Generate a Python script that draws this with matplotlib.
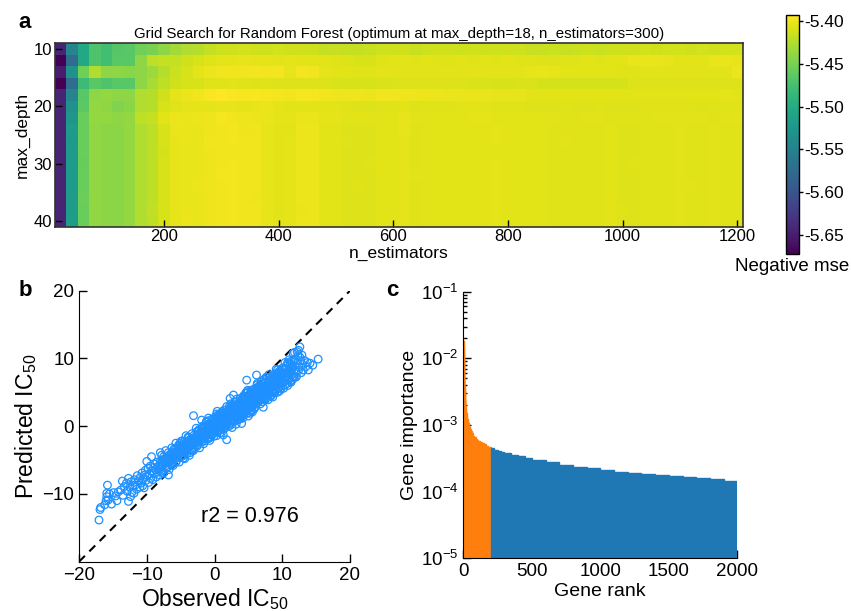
import numpy as np
import matplotlib
matplotlib.use("Agg")
import matplotlib.pyplot as plt
from matplotlib.ticker import FormatStrFormatter

plt.rcParams["font.family"] = ["Liberation Sans", "DejaVu Sans"]
plt.rcParams["mathtext.fontset"] = "custom"
plt.rcParams["mathtext.rm"] = "Liberation Sans"
plt.rcParams["mathtext.it"] = "Liberation Sans:italic"
plt.rcParams["mathtext.bf"] = "Liberation Sans:bold"

# ---- a: grid search (negative mse) ----
n_estimators = list(range(20, 1201, 20))
max_depth = [10, 12, 14, 16, 18, 20, 22, 24, 26, 28, 30, 32, 34, 36, 38, 40]

score_d10 = [-5.644, -5.546, -5.505, -5.471, -5.477, -5.468, -5.466, -5.454, -5.449, -5.440,
             -5.432, -5.426, -5.424, -5.418, -5.414, -5.413, -5.412, -5.413, -5.414, -5.412,
             -5.413, -5.413, -5.414, -5.417, -5.416, -5.417, -5.418, -5.416, -5.414, -5.413,
             -5.413, -5.416, -5.414, -5.413, -5.413, -5.414, -5.413, -5.413, -5.414, -5.413,
             -5.414, -5.416, -5.416, -5.415, -5.416, -5.415, -5.414, -5.415, -5.414, -5.413,
             -5.413, -5.412, -5.413, -5.412, -5.412, -5.413, -5.412, -5.413, -5.412, -5.412]
score_d12 = [-5.672, -5.574, -5.505, -5.471, -5.477, -5.466, -5.466, -5.440, -5.421, -5.418,
             -5.418, -5.413, -5.410, -5.407, -5.404, -5.404, -5.403, -5.404, -5.404, -5.405,
             -5.404, -5.405, -5.405, -5.406, -5.407, -5.408, -5.410, -5.410, -5.407, -5.406,
             -5.406, -5.407, -5.406, -5.407, -5.407, -5.406, -5.407, -5.406, -5.407, -5.406,
             -5.407, -5.407, -5.408, -5.408, -5.407, -5.407, -5.406, -5.407, -5.406, -5.406,
             -5.402, -5.402, -5.402, -5.403, -5.406, -5.406, -5.405, -5.402, -5.402, -5.403]
score_d14 = [-5.650, -5.532, -5.454, -5.426, -5.440, -5.440, -5.443, -5.440, -5.435, -5.424,
             -5.415, -5.410, -5.404, -5.401, -5.399, -5.399, -5.399, -5.398, -5.399, -5.398,
             -5.403, -5.398, -5.399, -5.404, -5.405, -5.406, -5.407, -5.407, -5.406, -5.406,
             -5.405, -5.406, -5.405, -5.406, -5.405, -5.406, -5.406, -5.406, -5.405, -5.406,
             -5.406, -5.403, -5.402, -5.403, -5.405, -5.406, -5.406, -5.406, -5.406, -5.407,
             -5.407, -5.406, -5.406, -5.406, -5.406, -5.406, -5.406, -5.405, -5.405, -5.401]
score_d16 = [-5.672, -5.574, -5.482, -5.466, -5.471, -5.466, -5.466, -5.440, -5.429, -5.421,
             -5.413, -5.410, -5.410, -5.407, -5.407, -5.406, -5.407, -5.408, -5.407, -5.408,
             -5.408, -5.408, -5.408, -5.408, -5.409, -5.410, -5.410, -5.410, -5.409, -5.409,
             -5.408, -5.408, -5.408, -5.408, -5.408, -5.408, -5.409, -5.409, -5.410, -5.410,
             -5.409, -5.409, -5.411, -5.411, -5.411, -5.411, -5.411, -5.411, -5.411, -5.411,
             -5.408, -5.408, -5.408, -5.408, -5.408, -5.408, -5.408, -5.408, -5.408, -5.408]
score_d18 = [-5.644, -5.546, -5.466, -5.440, -5.438, -5.440, -5.440, -5.426, -5.424, -5.413,
             -5.404, -5.401, -5.399, -5.396, -5.393, -5.396, -5.397, -5.396, -5.397, -5.398,
             -5.399, -5.397, -5.397, -5.399, -5.400, -5.400, -5.400, -5.401, -5.399, -5.399,
             -5.400, -5.400, -5.401, -5.401, -5.402, -5.402, -5.402, -5.402, -5.403, -5.403,
             -5.403, -5.405, -5.405, -5.405, -5.405, -5.406, -5.405, -5.405, -5.406, -5.406,
             -5.405, -5.405, -5.405, -5.405, -5.405, -5.405, -5.405, -5.405, -5.404, -5.405]
score_d20 = [-5.644, -5.532, -5.463, -5.438, -5.440, -5.446, -5.443, -5.426, -5.424, -5.410,
             -5.407, -5.404, -5.404, -5.404, -5.403, -5.403, -5.404, -5.403, -5.402, -5.404,
             -5.405, -5.406, -5.406, -5.406, -5.406, -5.407, -5.408, -5.408, -5.407, -5.407,
             -5.406, -5.408, -5.407, -5.407, -5.407, -5.406, -5.406, -5.406, -5.407, -5.407,
             -5.407, -5.408, -5.408, -5.408, -5.407, -5.408, -5.408, -5.407, -5.408, -5.408,
             -5.408, -5.407, -5.407, -5.407, -5.407, -5.407, -5.408, -5.407, -5.407, -5.407]
score_d22 = [-5.644, -5.527, -5.457, -5.438, -5.438, -5.440, -5.438, -5.421, -5.418, -5.406,
             -5.401, -5.402, -5.401, -5.400, -5.397, -5.399, -5.400, -5.401, -5.402, -5.404,
             -5.404, -5.402, -5.402, -5.404, -5.404, -5.406, -5.406, -5.406, -5.405, -5.405,
             -5.403, -5.405, -5.405, -5.405, -5.405, -5.405, -5.404, -5.404, -5.405, -5.405,
             -5.405, -5.406, -5.406, -5.406, -5.407, -5.407, -5.406, -5.406, -5.407, -5.407,
             -5.407, -5.407, -5.406, -5.406, -5.406, -5.406, -5.406, -5.407, -5.406, -5.406]
score_d24 = [-5.644, -5.519, -5.457, -5.439, -5.441, -5.441, -5.438, -5.426, -5.421, -5.410,
             -5.402, -5.402, -5.402, -5.400, -5.399, -5.398, -5.400, -5.399, -5.403, -5.405,
             -5.405, -5.401, -5.401, -5.405, -5.406, -5.408, -5.408, -5.408, -5.406, -5.406,
             -5.403, -5.407, -5.406, -5.406, -5.406, -5.406, -5.405, -5.405, -5.404, -5.406,
             -5.405, -5.406, -5.406, -5.407, -5.407, -5.407, -5.407, -5.407, -5.406, -5.408,
             -5.408, -5.407, -5.407, -5.407, -5.406, -5.407, -5.407, -5.406, -5.407, -5.407]
score_d26 = [-5.644, -5.521, -5.457, -5.439, -5.441, -5.441, -5.438, -5.426, -5.421, -5.410,
             -5.403, -5.402, -5.402, -5.399, -5.399, -5.398, -5.399, -5.399, -5.403, -5.405,
             -5.404, -5.401, -5.401, -5.405, -5.406, -5.407, -5.408, -5.408, -5.406, -5.406,
             -5.404, -5.407, -5.406, -5.406, -5.406, -5.406, -5.405, -5.405, -5.404, -5.406,
             -5.405, -5.406, -5.406, -5.407, -5.406, -5.407, -5.407, -5.407, -5.406, -5.408,
             -5.408, -5.407, -5.407, -5.407, -5.406, -5.407, -5.407, -5.406, -5.407, -5.407]
score_d28 = [-5.644, -5.519, -5.457, -5.439, -5.441, -5.441, -5.438, -5.426, -5.421, -5.411,
             -5.403, -5.402, -5.402, -5.400, -5.399, -5.399, -5.399, -5.399, -5.403, -5.405,
             -5.404, -5.401, -5.401, -5.405, -5.406, -5.408, -5.408, -5.408, -5.406, -5.406,
             -5.404, -5.407, -5.406, -5.406, -5.406, -5.406, -5.405, -5.405, -5.405, -5.406,
             -5.405, -5.406, -5.406, -5.407, -5.407, -5.407, -5.407, -5.407, -5.406, -5.408,
             -5.408, -5.407, -5.407, -5.407, -5.406, -5.407, -5.407, -5.406, -5.407, -5.407]
score_d30 = [-5.644, -5.519, -5.458, -5.439, -5.441, -5.441, -5.438, -5.426, -5.421, -5.410,
             -5.403, -5.402, -5.402, -5.400, -5.399, -5.398, -5.399, -5.399, -5.403, -5.405,
             -5.404, -5.401, -5.401, -5.405, -5.406, -5.408, -5.408, -5.407, -5.406, -5.406,
             -5.404, -5.407, -5.406, -5.406, -5.406, -5.406, -5.405, -5.405, -5.404, -5.406,
             -5.405, -5.406, -5.406, -5.407, -5.407, -5.407, -5.407, -5.407, -5.406, -5.408,
             -5.407, -5.407, -5.407, -5.407, -5.406, -5.407, -5.407, -5.406, -5.407, -5.407]
score_d32 = [-5.644, -5.520, -5.457, -5.439, -5.441, -5.441, -5.438, -5.426, -5.421, -5.410,
             -5.403, -5.402, -5.402, -5.400, -5.398, -5.398, -5.399, -5.399, -5.403, -5.405,
             -5.404, -5.401, -5.401, -5.405, -5.406, -5.408, -5.408, -5.408, -5.406, -5.406,
             -5.404, -5.406, -5.406, -5.406, -5.406, -5.406, -5.405, -5.405, -5.404, -5.406,
             -5.405, -5.406, -5.406, -5.407, -5.407, -5.407, -5.407, -5.407, -5.406, -5.408,
             -5.408, -5.407, -5.407, -5.407, -5.406, -5.407, -5.407, -5.406, -5.407, -5.407]
score_d34 = [-5.644, -5.519, -5.457, -5.439, -5.441, -5.441, -5.438, -5.426, -5.421, -5.410,
             -5.403, -5.402, -5.401, -5.400, -5.399, -5.398, -5.399, -5.399, -5.403, -5.405,
             -5.404, -5.401, -5.401, -5.405, -5.406, -5.408, -5.407, -5.408, -5.406, -5.406,
             -5.404, -5.407, -5.406, -5.406, -5.406, -5.406, -5.405, -5.405, -5.404, -5.406,
             -5.405, -5.406, -5.406, -5.407, -5.407, -5.407, -5.407, -5.407, -5.406, -5.408,
             -5.408, -5.407, -5.407, -5.407, -5.406, -5.406, -5.407, -5.406, -5.407, -5.407]
score_d36 = [-5.644, -5.519, -5.456, -5.439, -5.441, -5.441, -5.438, -5.426, -5.421, -5.410,
             -5.403, -5.402, -5.402, -5.400, -5.399, -5.398, -5.399, -5.400, -5.403, -5.405,
             -5.404, -5.401, -5.401, -5.405, -5.406, -5.408, -5.408, -5.408, -5.406, -5.406,
             -5.404, -5.407, -5.406, -5.406, -5.406, -5.406, -5.405, -5.405, -5.404, -5.406,
             -5.406, -5.406, -5.406, -5.407, -5.407, -5.407, -5.407, -5.407, -5.406, -5.408,
             -5.408, -5.407, -5.407, -5.407, -5.406, -5.407, -5.407, -5.406, -5.407, -5.407]
score_d38 = [-5.644, -5.519, -5.457, -5.439, -5.441, -5.441, -5.438, -5.426, -5.420, -5.410,
             -5.403, -5.402, -5.402, -5.400, -5.399, -5.398, -5.399, -5.399, -5.403, -5.405,
             -5.404, -5.402, -5.401, -5.405, -5.406, -5.408, -5.408, -5.408, -5.406, -5.406,
             -5.404, -5.407, -5.406, -5.406, -5.406, -5.406, -5.405, -5.405, -5.404, -5.406,
             -5.405, -5.406, -5.406, -5.407, -5.407, -5.407, -5.407, -5.407, -5.406, -5.407,
             -5.408, -5.407, -5.407, -5.407, -5.406, -5.407, -5.407, -5.406, -5.407, -5.407]
score_d40 = [-5.644, -5.518, -5.457, -5.439, -5.441, -5.441, -5.438, -5.426, -5.421, -5.410,
             -5.403, -5.401, -5.402, -5.400, -5.399, -5.398, -5.399, -5.399, -5.403, -5.405,
             -5.404, -5.401, -5.401, -5.405, -5.406, -5.408, -5.408, -5.408, -5.406, -5.406,
             -5.404, -5.407, -5.406, -5.405, -5.406, -5.406, -5.405, -5.405, -5.404, -5.406,
             -5.405, -5.406, -5.406, -5.407, -5.407, -5.407, -5.407, -5.407, -5.406, -5.408,
             -5.408, -5.407, -5.407, -5.407, -5.406, -5.407, -5.407, -5.406, -5.407, -5.407]

# ---- b: observed vs predicted IC50 ----
observed_ic50 = [
    -17.05, -16.8, -16.9, -16.2, -15.9, -15.8, -15.7, -16.0, -15.5, -15.2,
    -14.9, -14.6, -14.2, -14.4, -15.9,
    -13.8, -13.5, -13.3, -13.0, -12.9, -12.7, -12.7, -12.5, -12.3, -12.2,
    -12.0, -11.8, -11.7, -11.5, -11.4, -11.2, -11.0, -11.0, -10.8, -10.7,
    -10.5, -10.4, -10.3, -10.2, -10.1, -10.0, -13.6, -12.4, -11.9, -10.6,
    -9.9, -9.8, -9.7, -9.6, -9.5, -9.4, -9.3, -9.2, -9.1, -9.0,
    -8.9, -8.8, -8.7, -8.6, -8.5, -8.4, -8.3, -8.2, -8.1, -8.0,
    -7.9, -7.8, -7.7, -7.6, -7.5, -7.4, -7.3, -7.2, -7.1, -7.0,
    -6.9, -6.8, -6.7, -6.6, -6.5, -6.4, -6.3, -6.2, -6.1, -6.0,
    -5.9, -5.8, -5.7, -5.6, -5.5, -5.4, -5.3, -5.2, -5.1, -5.0,
    -4.9, -4.8, -4.7, -4.6, -4.5, -4.4, -4.3, -4.2, -4.1, -4.0,
    -3.9, -3.8, -3.7, -3.6, -3.5, -3.4, -3.3, -3.2, -3.1, -3.0,
    -2.9, -2.8, -2.7, -2.6, -2.5, -2.4, -2.3, -2.2, -2.1, -2.0,
    -5.7, -5.1, -4.4, -3.9, -3.3, -2.6, -4.7, -5.9, -2.3, -4.9,
    -1.9, -1.9, -1.8, -1.7, -1.6, -1.5, -1.4, -1.3, -1.2, -1.1,
    -1.0, -0.9, -0.8, -0.7, -0.6, -0.5, -0.4, -0.3, -0.2, -0.1,
    0.0, 0.1, 0.2, 0.3, 0.4, 0.5, 0.6, 0.7, 0.8, 0.9,
    1.0, 1.1, 1.2, 1.3, 1.4, 1.5, 1.6, 1.7, 1.8, 1.9,
    -1.5, -1.2, -0.8, -0.4, 0.0, 0.3, 0.6, 1.0, 1.4, 1.9,
    -1.0, -0.6, 0.2, 0.8, 1.2, 1.6, -1.7, -0.2, 0.5, 1.1,
    1.7, 0.9, -0.9, 0.4, 1.3,
    2.0, 2.1, 2.2, 2.3, 2.3, 2.4, 2.5, 2.6, 2.7, 2.8,
    2.8, 2.9, 3.0, 3.1, 3.2, 3.3, 3.4, 3.5, 3.6, 3.7,
    3.8, 3.9, 4.0, 4.0, 4.1, 4.2, 4.3, 4.4, 4.5, 4.6,
    4.7, 4.75, 4.8, 4.9, 5.0, 5.1, 5.2, 5.3, 5.4, 5.5,
    5.6, 5.7, 5.8, 5.9, 6.0, 2.2, 2.6, 3.0, 3.4, 3.8,
    4.2, 4.6, 5.0, 5.4, 5.8, 2.4, 3.2, 3.9, 4.4, 5.1,
    5.6, 2.9, 3.6, 4.3, 5.3, 5.9, 2.1, 2.7, 3.3, 4.1,
    4.8, 5.5, 4.9, 3.7, 5.2,
    6.1, 6.2, 6.2, 6.3, 6.4, 6.5, 6.6, 6.7, 6.8, 6.9,
    7.0, 7.1, 7.2, 7.2, 7.3, 7.4, 7.5, 7.6, 7.7, 7.8,
    7.9, 8.0, 8.1, 8.2, 8.3, 8.4, 8.5, 8.6, 8.7, 8.8,
    8.9, 9.0, 9.1, 9.2, 9.3, 9.4, 9.5, 9.6, 9.7, 9.8,
    9.9, 10.0, 6.3, 6.9, 7.5, 8.0, 8.6, 9.1, 9.6, 6.6,
    7.3, 7.9, 8.4, 8.9, 9.4, 9.9, 6.5, 7.1, 7.7, 8.2,
    8.7, 9.3, 9.8, 6.8, 7.6,
    10.1, 10.2, 10.3, 10.4, 10.5, 10.6, 10.7, 10.8, 10.9, 11.0,
    11.1, 11.2, 11.3, 11.4, 11.5, 11.6, 11.7, 11.8, 11.9, 12.0,
    12.1, 12.2, 12.3, 12.4, 12.5, 12.6, 12.7, 12.8, 12.9, 13.0,
    10.4, 11.0, 11.8, 12.2, 12.6, 10.8, 11.5, 12.4,
    13.1, 13.3, 13.5, 13.85, 14.1, 14.5, 15.3, 13.7,
    # core of the cloud
    -8.0, -7.9, -7.8, -7.7, -7.6, -7.5, -7.4, -7.3, -7.2, -7.1,
    -7.0, -6.9, -6.8, -6.7, -6.6, -6.5, -6.4, -6.3, -6.2, -6.1,
    -6.0, -5.9, -5.8, -5.7, -5.6, -5.5, -5.4, -5.3, -5.2, -5.1,
    -5.0, -4.9, -4.8, -4.7, -4.6, -4.5, -4.4, -4.3, -4.2, -4.1,
    -4.0, -3.9, -3.8, -3.7, -3.6, -3.5, -3.4, -3.3, -3.2, -3.1,
    -3.0, -2.9, -2.8, -2.7, -2.6, -2.5, -2.4, -2.3, -2.2, -2.1,
    -2.0, -1.9, -1.8, -1.7, -1.6, -1.5, -1.4, -1.3, -1.2, -1.1,
    -1.0, -0.9, -0.8, -0.7, -0.6, -0.5, -0.4, -0.3, -0.2, -0.1,
    0.0, 0.1, 0.2, 0.3, 0.4, 0.5, 0.6, 0.7, 0.8, 0.9,
    1.0, 1.1, 1.2, 1.3, 1.4, 1.5, 1.6, 1.7, 1.8, 1.9,
    2.0, 2.1, 2.2, 2.3, 2.4, 2.5, 2.6, 2.7, 2.8, 2.9,
    3.0, 3.1, 3.2, 3.3, 3.4, 3.5, 3.6, 3.7, 3.8, 3.9,
    4.0, 4.1, 4.2, 4.3, 4.4, 4.5, 4.6, 4.7, 4.8, 4.9,
    5.0, 5.1, 5.2, 5.3, 5.4, 5.5, 5.6, 5.7, 5.8, 5.9,
    6.0, 6.1, 6.2, 6.3, 6.4, 6.5, 6.6, 6.7, 6.8, 6.9,
    7.0, 7.1, 7.2, 7.3, 7.4, 7.5, 7.6, 7.7, 7.8, 7.9,
    8.0, 8.1, 8.2, 8.3, 8.4, 8.5, 8.6, 8.7, 8.8, 8.9,
    9.0, 9.1, 9.2, 9.3, 9.4, 9.5, 9.6, 9.7, 9.8, 9.9,
    10.0, 10.1, 10.2, 10.3, 10.4, 10.5, 10.6, 10.7, 10.8, 10.9,
    11.0, 11.1, 11.2, 11.3, 11.4, 11.5, 11.6, 11.7, 11.8, 11.9,
    0.05, 0.25, 0.45, 0.65, 0.85, 1.05, 1.25, 1.45, 1.65, 1.85,
    2.05, 2.25, 2.45, 2.65, 2.85, 3.05, 3.25, 3.45, 3.65, 3.85,
    4.05, 4.25, 4.45, 4.65, 4.85, 5.05, 5.25, 5.45, 5.65, 5.85,
    6.05, 6.25, 6.45, 6.65, 6.85, 7.05, 7.25, 7.45, 7.65, 7.85,
    8.05, 8.25, 8.45, 8.65, 8.85, 9.05, 9.25, 9.45, 9.65, 9.85,
]
predicted_ic50 = [
    -13.85, -12.0, -12.3, -11.6, -10.4, -8.7, -10.9, -11.0, -10.0, -11.5,
    -9.8, -10.3, -9.7, -11.0, -9.9,
    -9.4, -10.2, -8.9, -8.4, -9.6, -7.7, -11.1, -9.0, -8.2, -9.8,
    -8.7, -7.9, -8.7, -9.3, -7.3, -8.1, -9.0, -7.6, -8.4, -6.9,
    -7.8, -9.1, -7.2, -6.5, -8.0, -5.2, -8.1, -10.4, -9.9, -8.8,
    -7.3, -6.2, -8.3, -7.0, -5.9, -7.7, -4.5, -6.6, -7.9, -6.1,
    -7.0, -5.6, -6.4, -7.5, -5.3, -6.8, -5.9, -6.3, -7.2, -3.9,
    -5.6, -6.6, -5.0, -5.8, -6.9, -4.9, -5.4, -6.2, -4.6, -5.1,
    -6.0, -7.2, -4.3, -5.2, -4.8, -5.7, -3.9, -4.6, -5.3, -4.2,
    -4.9, -3.8, -4.4, -3.3, -4.6, -3.6, -4.0, -2.9, -3.7, -4.5,
    -3.2, -3.8, -2.7, -3.5, -4.2, -2.9, -3.3, -2.4, -3.7, -2.8,
    -3.2, -2.1, -3.0, -3.9, -2.4, -2.8, -1.9, -2.6, 1.55, -3.2,
    -1.7, -2.3, -1.4, -2.8, -1.9, -1.2, -2.4, -1.6, -0.9, -2.0,
    -5.3, -2.5, -4.8, -1.6, -3.6, -0.8, -4.4, -3.4, -0.5, -2.2,
    0.9, -1.5, -0.7, -1.9, -0.4, -1.1, -0.2, -1.6, -0.8, 0.1,
    -1.2, -0.4, -1.8, 0.3, -0.9, -0.1, -1.3, 0.6, -0.5, 0.2,
    -0.9, 0.5, -0.3, 1.1, -0.8, 0.4, -0.1, 1.2, -0.6, 0.7,
    0.1, 1.5, -0.3, 0.9, 0.3, 1.6, -0.2, 1.0, -2.0, 0.6,
    -2.2, 0.6, -0.1, 0.9, 0.4, -1.4, 1.7, -1.0, 1.9, 1.8,
    0.8, -1.6, 1.4, 0.2, 2.0, 0.6, -0.2, -1.1, -0.6, 0.5,
    1.9, 1.9, 1.2, 2.2, -1.3,
    1.2, 2.3, 0.8, 4.1, 1.7, 0.4, 2.0, 1.1, 2.8, 4.6,
    1.5, 0.7, 2.2, 1.4, 3.0, 1.9, 0.9, 2.6, 3.4, 1.6,
    2.9, 2.1, 0.4, 3.3, 2.5, 3.9, 1.8, 3.0, 4.2, 2.4,
    3.5, 6.8, 1.9, 3.1, 4.0, 2.7, 4.6, 3.3, 2.2, 3.9,
    5.0, 3.0, 4.3, 2.6, 3.6, 2.9, -0.2, 3.6, 2.3, 4.1,
    1.2, 4.9, 1.5, 5.3, 3.5, 3.3, 0.3, 3.7, 2.0, 3.6,
    2.1, 2.5, 1.0, 4.5, 4.9, 4.8, 1.9, 1.0, 2.9, 1.5,
    4.1, 2.9, 5.3, 3.0, 1.9,
    4.8, 7.55, 3.4, 5.2, 4.1, 5.6, 3.8, 4.9, 6.1, 4.5,
    5.3, 3.6, 2.8, 5.8, 4.7, 6.4, 5.1, 4.2, 6.0, 5.5,
    4.6, 6.7, 5.3, 4.5, 6.2, 5.7, 7.1, 5.0, 6.5, 4.9,
    7.3, 6.1, 5.4, 7.8, 6.6, 5.6, 7.4, 6.3, 8.2, 5.9,
    7.0, 6.4, 6.3, 6.6, 3.9, 7.6, 4.3, 8.4, 5.2, 5.9,
    6.9, 3.9, 6.9, 5.8, 7.9, 8.5, 4.4, 5.0, 5.4, 6.0,
    7.5, 5.0, 7.6, 3.9, 7.2,
    7.8, 5.6, 8.4, 6.9, 7.5, 8.9, 6.3, 7.9, 9.2, 7.0,
    8.3, 6.6, 9.6, 7.6, 8.6, 10.75, 7.2, 8.9, 9.9, 8.1,
    7.3, 9.3, 10.4, 11.2, 8.7, 11.7, 9.7, 7.9, 10.5, 9.1,
    9.4, 9.8, 10.9, 11.0, 10.2, 6.0, 6.9, 8.2,
    8.3, 9.7, 8.8, 8.3, 9.3, 9.0, 9.9, 9.4,
    # core of the cloud
    -5.2, -6.6, -4.3, -5.7, -6.9, -4.5, -5.2, -5.9, -3.6, -6.2,
    -4.6, -5.3, -3.9, -6.4, -4.5, -4.1, -5.5, -3.2, -4.7, -5.8,
    -3.4, -4.1, -4.8, -2.5, -5.1, -3.6, -4.2, -2.8, -5.3, -3.5,
    -3.0, -4.4, -2.2, -3.6, -4.7, -2.3, -3.1, -3.7, -1.4, -4.1,
    -2.5, -3.1, -1.7, -4.3, -2.4, -1.9, -3.4, -1.1, -2.5, -3.6,
    -1.3, -2.0, -2.6, -0.3, -3.0, -1.4, -2.0, -0.7, -3.2, -1.3,
    -0.8, -2.3, 0.0, -1.4, -2.6, -0.2, -0.9, -1.5, 0.7, -1.9,
    -0.3, -1.0, 0.4, -2.1, -0.2, 0.2, -1.2, 1.1, -0.3, -1.5,
    0.9, 0.2, -0.5, 1.8, -0.8, 0.8, 0.1, 1.5, -1.0, 0.8,
    1.3, -0.1, 2.2, 0.7, -0.4, 2.0, 1.2, 0.6, 2.9, 0.3,
    1.8, 1.2, 2.6, 0.1, 1.9, 2.4, 1.0, 3.2, 1.8, 0.7,
    3.1, 2.3, 1.7, 4.0, 1.3, 2.9, 2.3, 3.7, 1.1, 3.0,
    3.5, 2.0, 4.3, 2.9, 1.8, 4.1, 3.4, 2.8, 5.1, 2.4,
    4.0, 3.4, 4.7, 2.2, 4.1, 4.6, 3.1, 5.4, 4.0, 2.8,
    5.2, 4.5, 3.9, 6.1, 3.5, 5.1, 4.4, 5.8, 3.3, 5.2,
    5.6, 4.2, 6.5, 5.1, 3.9, 6.3, 5.6, 4.9, 7.2, 4.6,
    6.2, 5.5, 6.9, 4.4, 6.2, 6.7, 5.3, 7.6, 6.1, 5.0,
    7.4, 6.6, 6.0, 8.3, 5.7, 7.2, 6.6, 8.0, 5.5, 7.3,
    7.8, 6.4, 8.6, 7.2, 6.1, 8.5, 7.7, 7.1, 9.4, 6.8,
    8.3, 7.7, 9.1, 6.5, 8.4, 8.9, 7.4, 9.7, 8.3, 7.2,
    -0.4, 1.0, -0.9, 0.8, 1.7, 0.1, 0.9, 2.4, 0.3, 1.8,
    0.0, 2.3, 1.7, 3.1, 1.5, 3.1, 1.3, 2.1, 3.4, 1.6,
    3.2, 4.2, 2.5, 3.3, 4.9, 2.7, 4.3, 2.4, 4.8, 4.1,
    5.6, 4.0, 5.5, 3.8, 4.5, 5.9, 4.0, 5.7, 6.6, 4.9,
    5.8, 7.3, 5.2, 6.7, 4.9, 7.2, 6.5, 8.0, 6.5, 7.9,
]
r2_score = 0.976

# ---- c: gene importance (rank intervals, left edge -> importance) ----
rank_edges = [0, 1, 2, 3, 4, 5, 6, 7, 8, 9, 10, 12, 14, 16, 18, 20, 24, 28, 32, 36,
              40, 45, 50, 55, 60, 70, 80, 90, 100, 110, 120, 135, 150, 165, 180, 200,
              225, 250, 275, 300, 350, 400, 450, 500, 600, 700, 800, 900, 1000, 1100,
              1200, 1300, 1400, 1500, 1600, 1700, 1800, 1900, 2000]
importance = [2.1e-2, 1.8e-2, 1.5e-2, 1.2e-2, 9.0e-3, 7.0e-3, 5.5e-3, 4.5e-3, 3.8e-3, 3.3e-3,
              2.8e-3, 2.4e-3, 2.1e-3, 1.85e-3, 1.65e-3, 1.5e-3, 1.35e-3, 1.25e-3, 1.15e-3, 1.07e-3,
              1.0e-3, 9.3e-4, 8.7e-4, 8.1e-4, 7.5e-4, 6.9e-4, 6.5e-4, 6.2e-4, 6.0e-4, 5.8e-4,
              5.6e-4, 5.35e-4, 5.1e-4, 4.9e-4, 4.7e-4,
              4.45e-4, 4.25e-4, 4.05e-4, 3.9e-4, 3.75e-4, 3.55e-4, 3.4e-4, 3.25e-4, 3.0e-4,
              2.75e-4, 2.55e-4, 2.38e-4, 2.25e-4, 2.12e-4, 2.0e-4, 1.92e-4, 1.86e-4, 1.78e-4,
              1.7e-4, 1.64e-4, 1.58e-4, 1.53e-4, 1.46e-4]
top_genes = 200

grid_scores = np.array([score_d10, score_d12, score_d14, score_d16, score_d18, score_d20,
                        score_d22, score_d24, score_d26, score_d28, score_d30, score_d32,
                        score_d34, score_d36, score_d38, score_d40])

W, H = 851, 611


def box(left, top, right, bottom):
    return [left / W, 1 - bottom / H, (right - left) / W, (bottom - top) / H]


fig = plt.figure(figsize=(W / 100, H / 100), dpi=100)

# heatmap
ax_a = fig.add_axes(box(55, 43.3, 743, 226.7))
mesh = ax_a.pcolormesh(n_estimators, max_depth, grid_scores, cmap="viridis",
                       shading="nearest")
ax_a.set_xlim(10, 1210)
ax_a.set_ylim(41, 9)
ax_a.set_xticks([200, 400, 600, 800, 1000, 1200])
ax_a.set_yticks([10, 20, 30, 40])
ax_a.tick_params(direction="in", length=5, width=1, labelsize=12, pad=2)
ax_a.set_xlabel("n_estimators", fontsize=12.5, labelpad=1)
ax_a.set_ylabel("max_depth", fontsize=12.5, labelpad=3)
ax_a.set_title("Grid Search for Random Forest (optimum at max_depth=18, n_estimators=300)",
               fontsize=10.8, pad=4)
for sp in ax_a.spines.values():
    sp.set_linewidth(1.2)
    sp.set_color("#333333")

cax = fig.add_axes(box(786, 15, 799, 254))
cb = fig.colorbar(mesh, cax=cax, ticks=[-5.40, -5.45, -5.50, -5.55, -5.60, -5.65])
cb.ax.yaxis.set_major_formatter(FormatStrFormatter("%.2f"))
cb.ax.tick_params(labelsize=12.5, length=3, width=1, pad=1)
cb.outline.set_linewidth(1)
cb.ax.set_xlabel("Negative mse", fontsize=13.5, labelpad=3)

# observed vs predicted
ax_b = fig.add_axes(box(79, 290.7, 350, 561.7))
ax_b.plot([-20, 20], [-20, 20], color="black", ls="--", lw=1.5, dashes=(4, 3),
          zorder=1)
ax_b.scatter(observed_ic50, predicted_ic50, s=30, facecolors="none",
             edgecolors="#1e90ff", linewidths=0.9, zorder=2)
ax_b.set_xlim(-20, 20)
ax_b.set_ylim(-20, 20)
ax_b.set_xticks([-20, -10, 0, 10, 20])
ax_b.set_yticks([-10, 0, 10, 20])
ax_b.tick_params(direction="in", length=6, width=1, labelsize=13.5)
ax_b.spines["top"].set_visible(False)
ax_b.spines["right"].set_visible(False)
ax_b.set_xlabel("Observed IC$_{50}$", fontsize=16.5, labelpad=2)
ax_b.set_ylabel("Predicted IC$_{50}$", fontsize=16.5, labelpad=2)
ax_b.text(-2, -14.1, f"r2 = {r2_score}", fontsize=15.5)

# gene importance
ax_c = fig.add_axes(box(463.3, 291.7, 737.3, 558.3))
lefts = rank_edges[:-1]
widths = np.diff(rank_edges)
colors = ["#ff7f0e" if x < top_genes else "#1f77b4" for x in lefts]
ax_c.bar(lefts, importance, width=widths, align="edge", color=colors,
         edgecolor=colors, linewidth=1.0)
ax_c.set_yscale("log")
ax_c.set_ylim(1e-5, 1e-1)
ax_c.set_xlim(0, 2000)
ax_c.set_xticks([0, 500, 1000, 1500, 2000])
ax_c.set_axisbelow(True)
ax_c.tick_params(which="both", direction="in", width=1, labelsize=13.5)
ax_c.tick_params(which="major", length=6)
ax_c.tick_params(which="minor", length=3)
ax_c.spines["top"].set_visible(False)
ax_c.spines["right"].set_visible(False)
ax_c.set_xlabel("Gene rank", fontsize=14, labelpad=2)
ax_c.set_ylabel("Gene importance", fontsize=14, labelpad=2)

fig.text(18 / W, 1 - 28 / H, "a", fontsize=16, fontweight="bold")
fig.text(19 / W, 1 - 296 / H, "b", fontsize=16, fontweight="bold")
fig.text(386 / W, 1 - 296 / H, "c", fontsize=16, fontweight="bold")

fig.savefig("out.png", dpi=100)
